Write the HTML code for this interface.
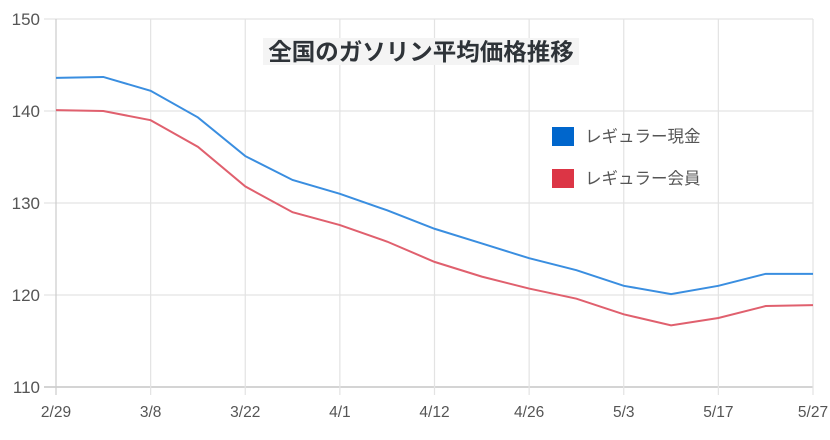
<!DOCTYPE html>
<html><head><meta charset="utf-8"><style>
body{margin:0;background:#fff;}
svg text{font-family:"Liberation Sans","Noto Sans CJK JP",sans-serif;}
</style></head><body>
<svg id="c" width="830" height="435" xmlns="http://www.w3.org/2000/svg"></svg>
<script>
const categories=["2/29","","3/8","","3/22","","4/1","","4/12","","4/26","","5/3","","5/17","","5/27"];
const cashValues=[143.6,143.7,142.2,139.3,135.1,132.5,131.0,129.2,127.2,125.6,124.0,122.7,121.0,120.1,121.0,122.3,122.3];
const memberValues=[140.1,140.0,139.0,136.1,131.8,129.0,127.6,125.8,123.6,122.0,120.7,119.6,117.9,116.7,117.5,118.8,118.9];
const yTicks=[110,120,130,140,150];
const svg=document.getElementById('c');
const NS='http://www.w3.org/2000/svg';
const x0=56,x1=813,y0=387,y1=19,ymin=110,ymax=150;
function xs(i){return x0+(x1-x0)*i/(categories.length-1);}
function ys(v){return y0-(v-ymin)/(ymax-ymin)*(y0-y1);}
function mk(t,a,txt){const e=document.createElementNS(NS,t);for(const k in a)e.setAttribute(k,a[k]);if(txt!==undefined)e.textContent=txt;svg.appendChild(e);return e;}
yTicks.forEach(v=>{
 const l=mk('line',{x1:44,x2:x1,y1:ys(v),y2:ys(v),stroke:v===ymin?'#bbb':'#e3e3e3','stroke-width':1.2});
 
 
 const t=mk('text',{x:40,y:ys(v)+6,'text-anchor':'end','font-size':17,fill:'#555'},v);
 
 
});
categories.forEach((c,i)=>{
 if(!c)return;
 const l=mk('line',{x1:xs(i),x2:xs(i),y1:y1,y2:y0+8,stroke:i===0?'#ccc':'#e3e3e3','stroke-width':1.2});
 
 
 const t=mk('text',{x:xs(i),y:417,'text-anchor':'middle','font-size':15.5,fill:'#555'},c);
 
 
});
function line(vals,color,name){
 const p=mk('polyline',{points:vals.map((v,i)=>xs(i)+','+ys(v)).join(' '),fill:'none',stroke:color,'stroke-width':2});
 
 
}
line(cashValues,'#3a8ee0','line-regular-cash');
line(memberValues,'#e0606e','line-regular-member');
const tb=mk('rect',{x:263,y:38,width:316,height:27,fill:'#f4f4f4'});


const tt=mk('text',{x:421,y:60,'text-anchor':'middle','font-size':23.5,'font-weight':'bold',fill:'#2e3338'},'全国のガソリン平均価格推移');


[['#0066cc','レギュラー現金',136],['#dc3545','レギュラー会員',178]].forEach(([c,n,y])=>{
 const r=mk('rect',{x:552,y:y-9,width:22,height:19,fill:c});
 
 
 const t=mk('text',{x:585,y:y+6,'font-size':16.5,fill:'#555'},n);
 
 
});
</script>
</body></html>
